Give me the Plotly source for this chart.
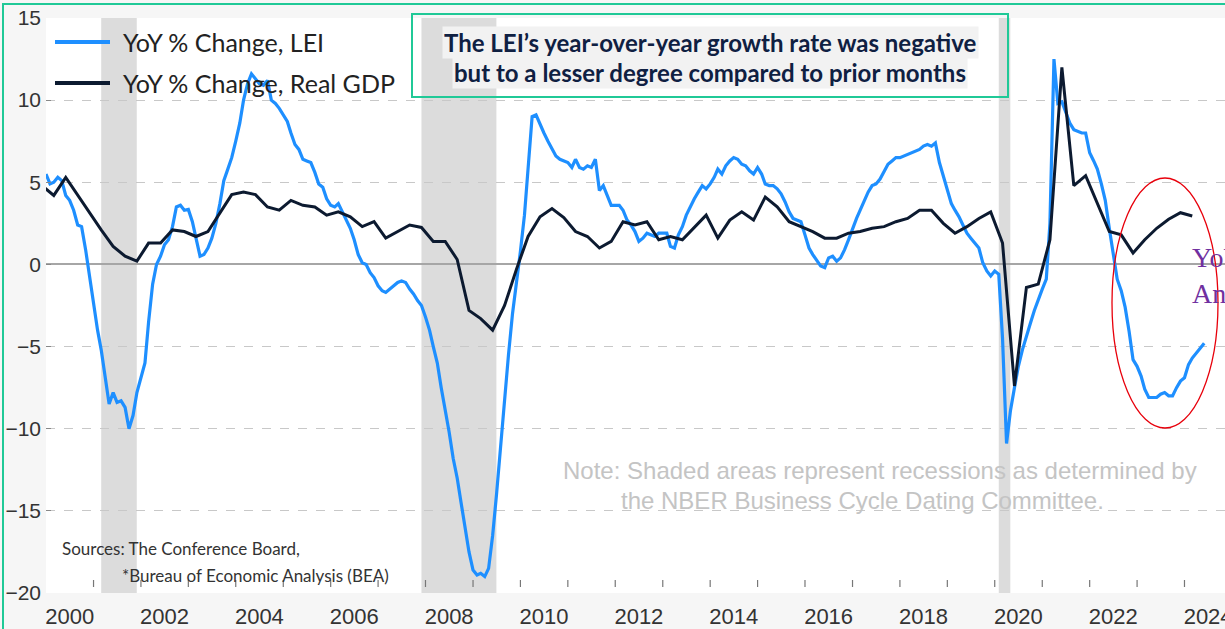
import pandas as pd
import plotly.graph_objects as go

## Data

# LEI, year-over-year % change, monthly from Jan 2000
lei_start = "2000-01-01"
lei_yoy = [
    5.5, 4.9, 5.0, 5.3, 5.1, 4.2, 3.9, 3.3, 2.4, 2.3, 0.9, -0.7,            # 2000
    -2.4, -4.0, -5.2, -7.0, -8.5, -7.8, -8.4, -8.3, -8.7, -10.0, -9.2, -7.8,  # 2001
    -6.8, -6.0, -3.5, -1.2, 0.0, 0.5, 1.2, 1.5, 2.3, 3.5, 3.6, 3.3,         # 2002
    3.35, 2.6, 1.6, 0.5, 0.6, 1.0, 1.6, 2.5, 3.7, 5.1, 5.8, 6.5,            # 2003
    7.5, 8.6, 10.0, 11.0, 11.6, 11.3, 11.0, 10.9, 11.2, 10.0, 9.8, 9.5,     # 2004
    9.1, 8.7, 8.0, 7.3, 7.0, 6.4, 6.3, 6.2, 5.6, 4.9, 4.7, 4.0,             # 2005
    3.6, 3.5, 3.7, 3.2, 2.7, 2.2, 1.5, 0.6, 0.1, 0.0, -0.5, -0.8,           # 2006
    -1.3, -1.6, -1.7, -1.5, -1.3, -1.1, -1.0, -1.1, -1.5, -1.8, -2.2, -2.5, # 2007
    -3.2, -4.0, -5.0, -6.0, -7.5, -8.8, -10.2, -11.8, -13.0, -14.5, -16.0, -17.5,  # 2008
    -18.6, -18.9, -18.8, -19.0, -18.5, -16.5, -14.0, -11.0, -8.0, -5.5, -3.0, -1.2, # 2009
    0.8, 3.0, 6.0, 9.0, 9.1, 8.5, 8.0, 7.5, 7.0, 6.6, 6.4, 6.3,             # 2010
    6.2, 5.9, 6.4, 5.9, 5.8, 6.0, 5.9, 6.4, 4.5, 4.8, 4.2, 3.6,             # 2011
    3.6, 3.6, 3.3, 2.7, 2.4, 2.0, 1.4, 1.6, 1.9, 1.8, 1.7, 1.9,             # 2012
    1.9, 1.9, 1.1, 1.0, 1.8, 2.3, 3.0, 3.55, 4.0, 4.4, 4.8, 4.6,            # 2013
    4.9, 5.3, 5.8, 5.5, 6.0, 6.3, 6.5, 6.4, 6.1, 6.0, 5.7, 5.5,             # 2014
    5.9, 5.5, 4.9, 4.8, 4.8, 4.6, 4.3, 3.8, 3.2, 2.8, 2.7, 2.6,             # 2015
    1.8, 1.0, 0.6, 0.2, -0.1, -0.2, 0.4, 0.5, 0.2, 0.4, 0.9, 1.5,           # 2016
    2.2, 2.8, 3.3, 3.9, 4.4, 4.8, 4.9, 5.2, 5.7, 6.1, 6.3, 6.5,             # 2017
    6.5, 6.6, 6.7, 6.8, 6.9, 7.0, 7.2, 7.3, 7.2, 7.4, 6.2, 5.4,             # 2018
    4.6, 3.7, 3.3, 2.9, 2.4, 1.9, 1.6, 1.3, 1.0, 0.1, -0.4, -0.7,           # 2019
    -0.4, -0.6, -4.5, -10.9, -8.9, -7.5, -6.2, -5.2, -4.3, -3.6, -2.8, -2.1, # 2020
    -1.5, -0.9, 2.5, 12.5, 9.8, 9.9, 9.2, 8.6, 8.2, 8.1, 8.0, 8.0,          # 2021
    6.8, 6.3, 5.8, 4.9, 3.9, 2.2, 0.5, -0.9, -1.6, -2.6, -4.1, -5.8,        # 2022
    -6.2, -6.8, -7.6, -8.1, -8.1, -8.1, -7.9, -7.8, -8.0, -8.0, -7.5, -7.1, # 2023
    -6.9, -6.1, -5.7, -5.4, -5.1, -4.8,                                     # 2024
]

# Real GDP, year-over-year % change, quarterly (plotted at quarter-end month), from Q4 1999
gdp_start = "1999-12-01"
gdp_yoy = [
    4.8,
    4.2, 5.3, 4.2, 3.1,      # 2000
    2.1, 1.1, 0.5, 0.2,      # 2001
    1.3, 1.3, 2.1, 2.0,      # 2002
    1.7, 2.0, 3.1, 4.25,     # 2003
    4.4, 4.25, 3.5, 3.3,     # 2004
    3.9, 3.6, 3.5, 3.0,      # 2005
    3.2, 2.9, 2.3, 2.6,      # 2006
    1.6, 2.0, 2.4, 2.25,     # 2007
    1.4, 1.4, 0.3, -2.8,     # 2008
    -3.3, -4.0, -2.5, -0.3,  # 2009
    1.7, 2.9, 3.4, 2.85,     # 2010
    2.0, 1.7, 1.0, 1.4,      # 2011
    2.6, 2.4, 2.6, 1.5,      # 2012
    1.7, 1.5, 2.25, 3.0,     # 2013
    1.6, 2.7, 3.2, 2.7,      # 2014
    4.1, 3.5, 2.6, 2.3,      # 2015
    2.0, 1.6, 1.6, 1.9,      # 2016
    2.0, 2.2, 2.3, 2.6,      # 2017
    2.8, 3.3, 3.3, 2.5,      # 2018
    1.9, 2.3, 2.8, 3.2,      # 2019
    1.3, -7.4, -1.4, -1.2,   # 2020
    1.5, 12.0, 4.8, 5.4,     # 2021
    3.7, 2.0, 1.8, 0.7,      # 2022
    1.5, 2.2, 2.75, 3.15,    # 2023
    2.95,                    # 2024
]

# NBER recessions
rec_start = ["2001-03-01", "2007-12-01", "2020-02-01"]
rec_end = ["2001-11-30", "2009-06-30", "2020-04-30"]

year_labels = list(range(2000, 2025, 2))
year_ticks = list(range(2001, 2025))
grid_vals = [-15, -10, -5, 5, 10]

lei_dates = pd.date_range(lei_start, periods=len(lei_yoy), freq="MS")
gdp_dates = pd.date_range(gdp_start, periods=len(gdp_yoy), freq="3MS")

## Layout helpers (pixel -> paper)
W, H = 1225, 629
PL, PR, PT, PB = 46, 1225, 18, 593

def ax(p):
    return (p - PL) / (PR - PL)

def ay(p):
    return (PB - p) / (PB - PT)

LEI_C = "#1e8fff"
GDP_C = "#0c1a30"
GREEN = "#20c997"

fig = go.Figure()
fig.add_trace(go.Scatter(x=lei_dates, y=lei_yoy, mode="lines", name="YoY % Change, LEI",
                         line=dict(color=LEI_C, width=3.2)))
fig.add_trace(go.Scatter(x=gdp_dates, y=gdp_yoy, mode="lines", name="YoY % Change, Real GDP",
                         line=dict(color=GDP_C, width=3)))

for s, e in zip(rec_start, rec_end):
    fig.add_vrect(x0=s, x1=e, fillcolor="#dcdcdc", opacity=1, line_width=0, layer="below")

shapes = []
# small year tick marks at the start of each year (labels sit mid-year)
for y in year_ticks:
    shapes.append(dict(type="line", xref="x", yref="paper", x0=f"{y}-01-01", x1=f"{y}-01-01",
                       y0=ay(587), y1=ay(580), line=dict(color="#777777", width=1.2)))
# legend samples
shapes.append(dict(type="line", xref="paper", yref="paper", x0=ax(55), x1=ax(110), y0=ay(42), y1=ay(42),
                   line=dict(color=LEI_C, width=4)))
shapes.append(dict(type="line", xref="paper", yref="paper", x0=ax(55), x1=ax(110), y0=ay(83), y1=ay(83),
                   line=dict(color=GDP_C, width=4)))
# callout box
shapes.append(dict(type="rect", xref="paper", yref="paper", x0=ax(412), x1=ax(1008), y0=ay(97), y1=ay(14),
                   line=dict(color=GREEN, width=2), fillcolor="rgba(0,0,0,0)", layer="above"))
# red ellipse
shapes.append(dict(type="circle", xref="paper", yref="paper", x0=ax(1112), x1=ax(1218), y0=ay(428), y1=ay(178),
                   line=dict(color="#e8000b", width=1.3), layer="above"))
# outer green frame
shapes.append(dict(type="rect", xref="paper", yref="paper", x0=ax(3), x1=ax(1240), y0=ay(645), y1=ay(4),
                   line=dict(color=GREEN, width=2), fillcolor="rgba(0,0,0,0)", layer="above"))

ann = []
def txt(x, y, s, size, color, family, xanchor="left", bg=None):
    d = dict(xref="paper", yref="paper", x=ax(x), y=ay(y), text=s, showarrow=False,
             xanchor=xanchor, yanchor="middle", font=dict(size=size, color=color, family=family))
    if bg:
        d["bgcolor"] = bg
    ann.append(d)

txt(121, 42, "YoY % Change, LEI", 25, "#222222", "Lato")
txt(121, 83, "YoY % Change, Real GDP", 25, "#222222", "Lato")
txt(710, 42, "<b>The LEI’s year-over-year growth rate was negative</b>", 24, "#0f2042", "Lato",
    xanchor="center", bg="#f2f2f2")
txt(710, 72, "<b>but to a lesser degree compared to prior months</b>", 24, "#0f2042", "Lato",
    xanchor="center", bg="#f2f2f2")
txt(880, 470, "Note: Shaded areas represent recessions as determined by", 24, "#c4c4c4",
    "Liberation Sans", xanchor="center")
txt(862, 500, "the NBER Business Cycle Dating Committee.", 24, "#c4c4c4",
    "Liberation Sans", xanchor="center")
txt(60, 548, "Sources: The Conference Board,", 17, "#333333", "Lato")
txt(120, 575, "*Bureau of Economic Analysis (BEA)", 17, "#333333", "Lato")
txt(1190, 257, "YoY", 28, "#7030a0", "Liberation Serif")
txt(1190, 293, "Annual", 28, "#7030a0", "Liberation Serif")

fig.update_layout(
    width=W, height=H,
    margin=dict(l=PL, r=W - PR, t=PT, b=H - PB),
    paper_bgcolor="#f6f6f6",
    plot_bgcolor="white",
    showlegend=False,
    shapes=list(fig.layout.shapes) + shapes,
    annotations=ann,
)
fig.update_xaxes(
    range=["2000-01-01", "2024-11-08"],
    automargin=False,
    tickmode="array",
    tickvals=[f"{y}-07-01" for y in year_labels],
    ticktext=[str(y) for y in year_labels],
    ticklabeloverflow="allow",
    ticks="",
    ticklabelstandoff=8,
    showgrid=False, zeroline=False, showline=False,
    tickfont=dict(size=22, color="#333333", family="Liberation Sans"),
)
fig.update_yaxes(
    range=[-20, 15],
    automargin=False,
    tickvals=[-20, -15, -10, -5, 0, 5, 10, 15],
    ticks="inside", ticklen=5, tickcolor="#888888",
    ticklabelstandoff=4,
    showgrid=False, showline=False,
    zeroline=True, zerolinecolor="#a6a6a6", zerolinewidth=1.5,
    tickfont=dict(size=21, color="#333333", family="Liberation Sans"),
    minor=dict(tickmode="array", tickvals=grid_vals, showgrid=True, gridcolor="#c8c8c8",
               griddash="dash", gridwidth=1, ticks=""),
)

# the page body has a default 8px margin; remove it so the chart sits at the window origin
fig.write_html("out.html", config={"displayModeBar": False},
               post_script="document.body.style.margin='0px';")
